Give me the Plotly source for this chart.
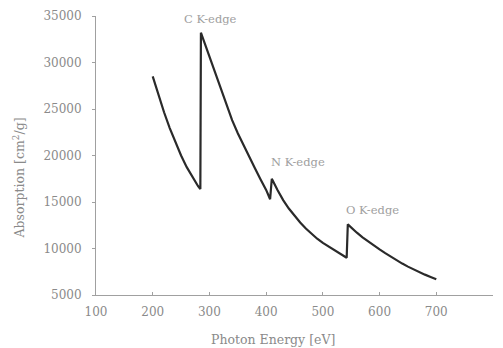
import plotly.graph_objects as go

# Mass absorption of a polymer film across the C, N and O K-edges
energy_pre_c = [200, 210, 220, 230, 240, 250, 260, 270, 280, 284]
absorb_pre_c = [28500, 26500, 24650, 22950, 21400, 20000, 18750, 17650, 16700, 16400]

energy_c_n = [285, 290, 300, 310, 320, 330, 340, 350, 360, 370, 380, 390, 400, 407]
absorb_c_n = [33200, 32350, 30600, 28900, 27100, 25400, 23800, 22400, 21100, 19900, 18650, 17450, 16300, 15300]

energy_n_o = [410, 420, 430, 440, 450, 460, 470, 480, 490, 500, 510, 520, 530, 542]
absorb_n_o = [17500, 16300, 15200, 14300, 13500, 12800, 12150, 11550, 11050, 10600, 10200, 9820, 9450, 9000]

energy_post_o = [544, 550, 560, 570, 580, 590, 600, 610, 620, 630, 640, 650, 660, 670, 680, 690, 700]
absorb_post_o = [12600, 12250, 11700, 11200, 10750, 10300, 9900, 9500, 9100, 8730, 8380, 8050, 7750, 7460, 7190, 6940, 6700]

edge_labels = ["C K-edge", "N K-edge", "O K-edge"]
edge_label_x = [301, 456, 587]
edge_label_y = [34650, 19300, 14140]

x_ticks = [100, 200, 300, 400, 500, 600, 700, 800]
y_ticks = [5000, 10000, 15000, 20000, 25000, 30000, 35000]

energy = energy_pre_c + energy_c_n + energy_n_o + energy_post_o
absorb = absorb_pre_c + absorb_c_n + absorb_n_o + absorb_post_o

serif = "DejaVu Serif, Liberation Serif, serif"
grey = "#8a8a8a"

fig = go.Figure()
fig.add_trace(go.Scatter(
    x=energy, y=absorb, mode="lines",
    line=dict(color="#2a2a2a", width=2.2),
    hoverinfo="skip", showlegend=False, cliponaxis=False,
))

y_lo, y_hi = 5000, 35000
for text, xv, yv in zip(edge_labels, edge_label_x, edge_label_y):
    fig.add_annotation(x=xv, xref="x", y=(yv - y_lo) / (y_hi - y_lo), yref="paper",
                       text=text, showarrow=False,
                       xanchor="center", yanchor="middle",
                       font=dict(family=serif, size=11.5, color="#a0a0a0"))

fig.add_annotation(xref="paper", yref="paper", x=0.445, y=-0.158,
                   text="Photon Energy [eV]", showarrow=False,
                   xanchor="center", yanchor="middle",
                   font=dict(family=serif, size=12.5, color=grey))
fig.add_annotation(xref="paper", yref="paper", x=-0.195, y=0.42,
                   text="Absorption [cm<sup>2</sup>/g]", showarrow=False,
                   textangle=-90, xanchor="center", yanchor="middle",
                   font=dict(family=serif, size=12.5, color=grey))

fig.update_layout(
    width=503, height=348,
    margin=dict(l=96, r=10, t=16, b=53),
    paper_bgcolor="white", plot_bgcolor="white",
    font=dict(family=serif, size=12, color=grey),
)
fig.update_xaxes(
    range=[100, 800], tickvals=x_ticks, ticktext=[str(v) for v in x_ticks],
    showgrid=False, zeroline=False, showline=True, linecolor="#a0a0a0", linewidth=1,
    ticks="inside", ticklen=3, tickcolor="#a0a0a0", ticklabelstandoff=6,
    tickfont=dict(family=serif, size=12, color=grey),
)
fig.update_yaxes(
    range=[y_lo, y_hi], tickvals=y_ticks, ticktext=[str(v) for v in y_ticks],
    showgrid=False, zeroline=False, showline=True, linecolor="#a0a0a0", linewidth=1,
    ticks="outside", ticklen=3, tickcolor="#a0a0a0", ticklabelstandoff=8,
    tickfont=dict(family=serif, size=12, color=grey),
)

fig.write_html("out.html")
